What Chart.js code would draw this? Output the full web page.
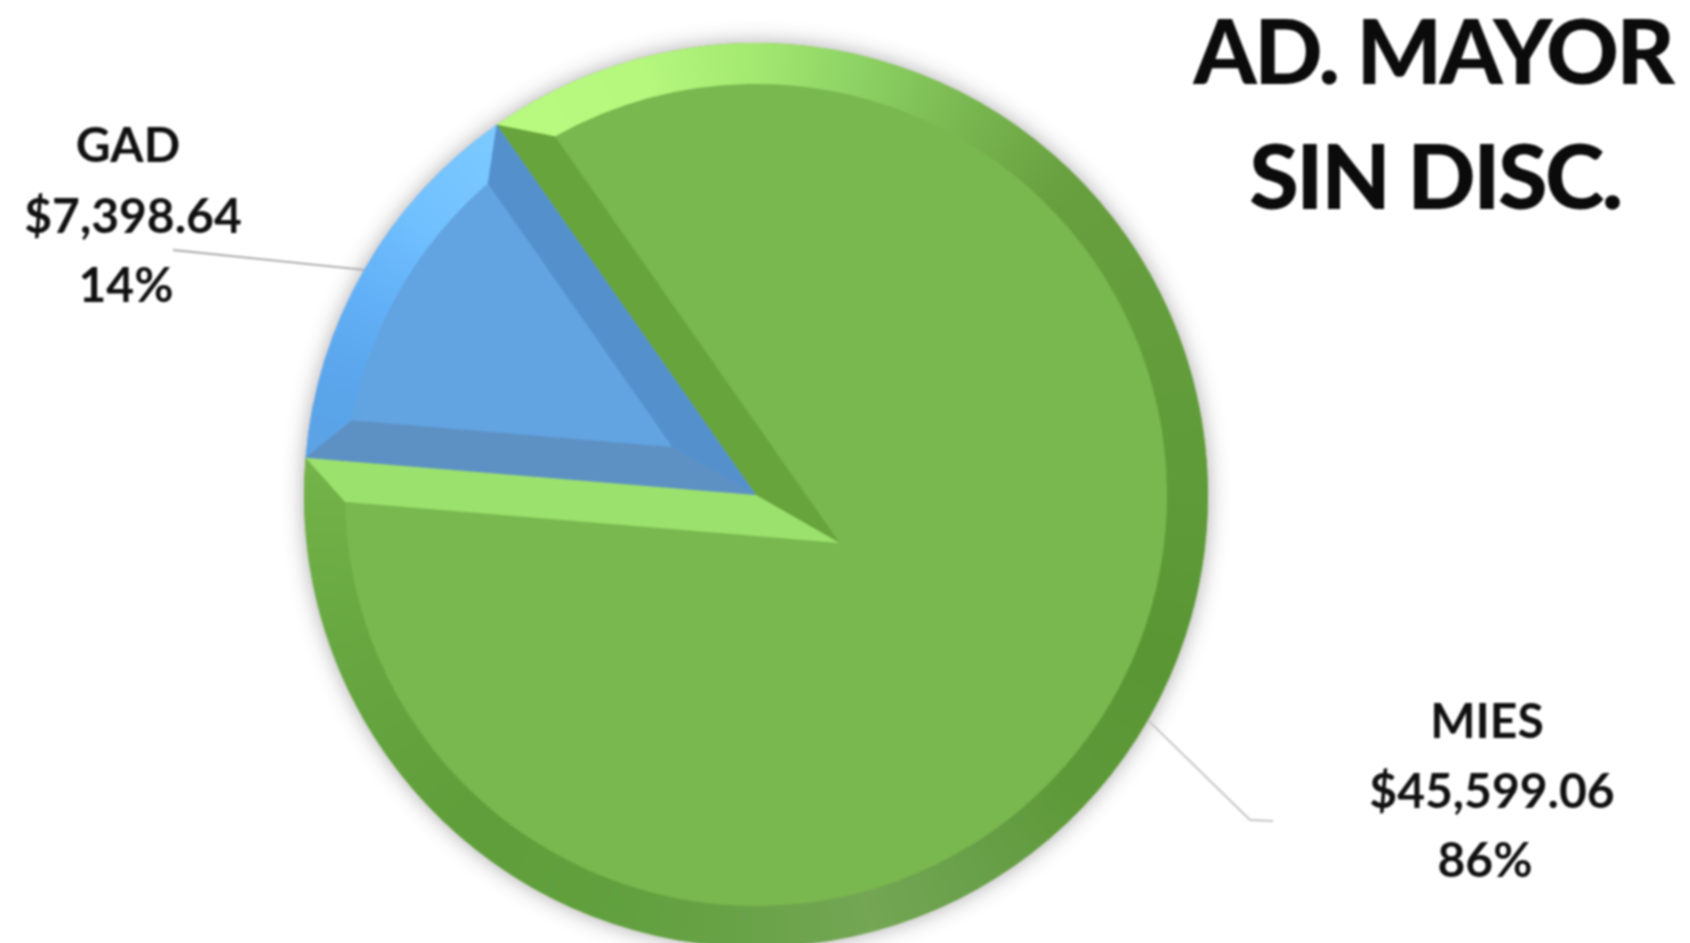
<!DOCTYPE html>
<html lang="es">
<head>
<meta charset="utf-8">
<title>AD. MAYOR SIN DISC.</title>
<script src="https://cdn.jsdelivr.net/npm/chart.js@4"></script>
<style>
  html, body { margin: 0; padding: 0; background: #fff; overflow: hidden; height: 943px; }
  canvas { display: block; filter: blur(0.8px); }
</style>
</head>
<body>
<canvas id="pieChart" width="1690" height="960"></canvas>
<script>
// ── Datos ──
const categories = ['MIES', 'GAD'];
const amounts = [45599.06, 7398.64];
const titleLines = ['AD. MAYOR', 'SIN DISC.'];

// ── Estilo ──
const faceColors = ['#79b74f', '#62a4e2'];
// bisel de cada lado de la rebanada: [borde inicial, borde final]
const edgeColors = [['#67a43c', '#9be16d'], ['#5d91c3', '#5490cc']];
// bisel exterior: [grados desde arriba, color]
const ringStops = [
  [[0, '#a3e870'], [12, '#8fd566'], [28, '#7ab851'], [45, '#689f3f'], [90, '#5f9b39'], [112, '#5a9634'],
   [135, '#5f9a3a'], [150, '#69a04a'], [165, '#74a654'], [180, '#6aa349'], [197, '#62a03f'], [222, '#5f9e3a'],
   [245, '#66a53f'], [272, '#72b248'], [325, '#b8fb80'], [345, '#b6f87e'], [360, '#a3e870']],
  [[270, '#5ca1e2'], [285, '#5aa5eb'], [297, '#62b0f7'], [310, '#72c1ff'], [326, '#7ccbff']]
];
const bevel = 41;
const labelFont = 'bold 48px Lato';
const titleFont = '900 90px Lato';
const titleSpacing = '-2.5px';
const titleRows = [{ x: 1433, y: 84 }, { x: 1435, y: 209 }];
const labelRows = [
  [{ x: 1487, y: 738 }, { x: 1492, y: 808 }, { x: 1485, y: 877 }],
  [{ x: 128, y: 162 }, { x: 133, y: 233 }, { x: 126, y: 302 }]
];
// guías: puntos despues del borde del pastel
const leaderPaths = [
  { color: '#c4c4c4', points: [[1250, 820], [1273, 821]] },
  { color: '#a8a8a8', points: [[173, 250]] }
];

const total = amounts.reduce((a, b) => a + b, 0);
const money = v => '$' + v.toLocaleString('en-US', { minimumFractionDigits: 2, maximumFractionDigits: 2 });
const polar = (g, r, a) => [g.x + r * Math.cos(a), g.y + r * Math.sin(a)];

// Sombra suave bajo el pastel
const softShadow = {
  id: 'softShadow',
  beforeDatasetsDraw(chart) {
    const g = chart.getDatasetMeta(0).data[0];
    const ctx = chart.ctx;
    ctx.save();
    ctx.shadowColor = 'rgba(60,50,60,0.45)';
    ctx.shadowBlur = 22;
    ctx.fillStyle = '#fff';
    ctx.beginPath();
    ctx.arc(g.x, g.y, g.outerRadius - 1, 0, Math.PI * 2);
    ctx.fill();
    ctx.restore();
  }
};

// Bisel: la cara es el arco de Chart.js, las facetas salen de su geometria
const bevelFacets = {
  id: 'bevelFacets',
  afterDatasetsDraw(chart) {
    const ctx = chart.ctx;
    chart.getDatasetMeta(0).data.forEach((arc, i) => {
      const g = arc.getProps(['x', 'y', 'startAngle', 'endAngle', 'outerRadius']);
      const r = g.outerRadius, inner = r - bevel;
      const delta = Math.asin(bevel / inner);
      const half = (g.endAngle - g.startAngle) / 2;
      const apex = polar(g, bevel / Math.sin(half), g.startAngle + half);
      const center = [g.x, g.y];

      const ring = ctx.createConicGradient(-Math.PI / 2, g.x, g.y);
      ringStops[i].forEach(s => ring.addColorStop(s[0] / 360, s[1]));
      ctx.fillStyle = ring;
      ctx.beginPath();
      ctx.arc(g.x, g.y, r, g.startAngle, g.endAngle);
      ctx.arc(g.x, g.y, inner, g.endAngle - delta, g.startAngle + delta, true);
      ctx.closePath();
      ctx.fill();

      const edges = [
        [center, polar(g, r, g.startAngle), polar(g, inner, g.startAngle + delta), apex],
        [center, polar(g, r, g.endAngle), polar(g, inner, g.endAngle - delta), apex]
      ];
      edges.forEach((pts, k) => {
        ctx.fillStyle = edgeColors[i][k];
        ctx.beginPath();
        pts.forEach((p, n) => n ? ctx.lineTo(p[0], p[1]) : ctx.moveTo(p[0], p[1]));
        ctx.closePath();
        ctx.fill();
      });
    });
  }
};

// Titulo, etiquetas y guias
const textLabels = {
  id: 'textLabels',
  afterDraw(chart) {
    const ctx = chart.ctx;
    ctx.save();
    ctx.textAlign = 'center';
    ctx.textBaseline = 'alphabetic';
    ctx.fillStyle = '#0b0b0b';

    ctx.font = titleFont;
    ctx.letterSpacing = titleSpacing;
    titleLines.forEach((t, i) => ctx.fillText(t, titleRows[i].x, titleRows[i].y));
    ctx.letterSpacing = '0px';

    ctx.fillStyle = '#101010';
    ctx.font = labelFont;
    categories.forEach((name, i) => {
      const rows = [name, money(amounts[i]), Math.round(amounts[i] / total * 100) + '%'];
      rows.forEach((t, k) => ctx.fillText(t, labelRows[i][k].x, labelRows[i][k].y));
    });

    chart.getDatasetMeta(0).data.forEach((arc, i) => {
      const g = arc.getProps(['x', 'y', 'startAngle', 'endAngle', 'outerRadius']);
      const start = polar(g, g.outerRadius, (g.startAngle + g.endAngle) / 2);
      ctx.strokeStyle = leaderPaths[i].color;
      ctx.lineWidth = 2;
      ctx.beginPath();
      ctx.moveTo(start[0], start[1]);
      leaderPaths[i].points.forEach(p => ctx.lineTo(p[0], p[1]));
      ctx.stroke();
    });
    ctx.restore();
  }
};

new Chart(document.getElementById('pieChart').getContext('2d'), {
  type: 'pie',
  data: {
    labels: categories,
    datasets: [{
      data: amounts,
      backgroundColor: faceColors,
      borderWidth: 0
    }]
  },
  options: {
    responsive: false,
    animation: false,
    rotation: 325,
    layout: { padding: { left: 304, right: 482, top: 43, bottom: 13 } },
    plugins: { legend: { display: false }, tooltip: { enabled: false } }
  },
  plugins: [softShadow, bevelFacets, textLabels]
});
</script>
</body>
</html>
